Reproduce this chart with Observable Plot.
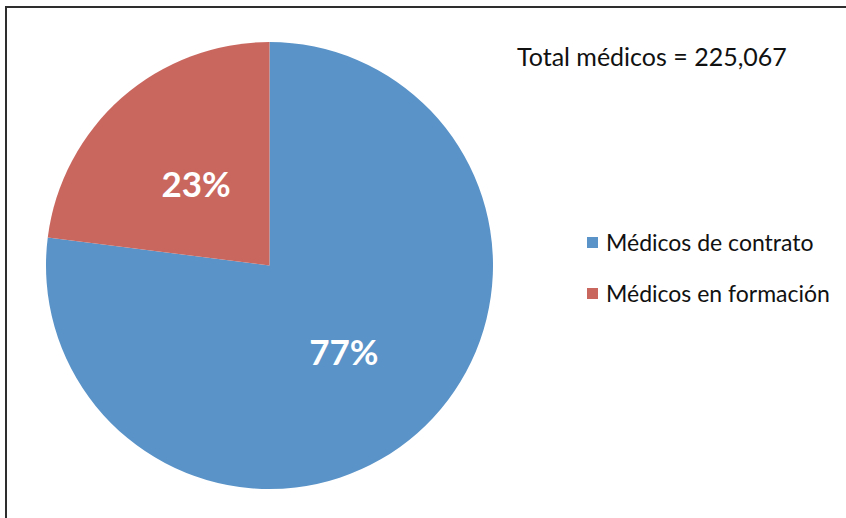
<!DOCTYPE html>
<html>
<head>
<meta charset="utf-8">
<script src="https://cdn.jsdelivr.net/npm/d3@7"></script>
<script src="https://cdn.jsdelivr.net/npm/@observablehq/plot@0.6"></script>
<style>
  html, body { margin: 0; padding: 0; background: #fff; }
  #wrap { position: relative; width: 846px; height: 518px; overflow: hidden; font-family: Lato, "Open Sans", sans-serif; }
  #frame { position: absolute; left: 5px; top: 6px; width: 860px; height: 600px; border-left: 2px solid #2e2e2e; border-top: 2px solid #2e2e2e; box-sizing: border-box; }
  #chart { position: absolute; left: 0; top: 0; }
  #total { position: absolute; left: 517px; top: 41px; font-size: 25px; color: #111; white-space: nowrap; }
  .leg { position: absolute; left: 587px; font-size: 23px; color: #111; white-space: nowrap; display: flex; align-items: center; }
  .sw { width: 11px; height: 11px; margin-right: 8px; display: inline-block; }
</style>
</head>
<body>
<div id="wrap">
  <div id="chart"></div>
  <div id="frame"></div>
  <div id="total"></div>
  <div id="legend"></div>
</div>
<script>
const categories = ["Médicos de contrato", "Médicos en formación"];
const percents = [77, 23];
const colors = ["#5A93C8", "#C9675F"];
const totalLabel = "Total médicos = 225,067";

const data = categories.map((c, i) => ({category: c, value: percents[i], label: percents[i] + "%"}));

// pie layout: start at 12 o'clock, blue clockwise, red fills the rest
const pie = d3.pie().value(d => d.value).sort(null).startAngle(0).endAngle(2 * Math.PI);
const arcs = pie(data);
const labelR = 0.5;
const labels = arcs.map(a => {
  const mid = (a.startAngle + a.endAngle) / 2;
  return {label: a.data.label, x: labelR * Math.sin(mid), y: labelR * Math.cos(mid)};
});

const cx = 269.5, cy = 265.5, r = 223.5;

const pieMark = (index, scales, values, dimensions, context) => {
  const g = d3.create("svg:g");
  const ox = scales.x(0), oy = scales.y(0), rad = scales.x(1) - scales.x(0);
  const arc = d3.arc().innerRadius(0).outerRadius(rad);
  g.selectAll("path").data(arcs).join("path")
    .attr("transform", `translate(${ox},${oy})`)
    .attr("d", arc)
    .attr("fill", d => scales.color(d.data.category));
  return g.node();
};

const plot = Plot.plot({
  width: 846,
  height: 518,
  margin: 0,
  x: {domain: [-1, 1], range: [cx - r, cx + r], axis: null},
  y: {domain: [-1, 1], range: [cy + r, cy - r], axis: null},
  color: {domain: categories, range: colors},
  style: {background: "transparent", fontFamily: "Lato, 'Open Sans', sans-serif"},
  marks: [
    pieMark,
    Plot.text(labels, {x: "x", y: "y", text: "label", fill: "white", fontSize: 35, fontWeight: "bold", dy: 4})
  ]
});
document.getElementById("chart").appendChild(plot);

document.getElementById("total").textContent = totalLabel;
const legend = document.getElementById("legend");
categories.forEach((c, i) => {
  const row = document.createElement("div");
  row.className = "leg";
  row.style.top = (228 + i * 51) + "px";
  const sw = document.createElement("span");
  sw.className = "sw";
  sw.style.background = colors[i];
  row.appendChild(sw);
  row.appendChild(document.createTextNode(c));
  legend.appendChild(row);
});
</script>
</body>
</html>
